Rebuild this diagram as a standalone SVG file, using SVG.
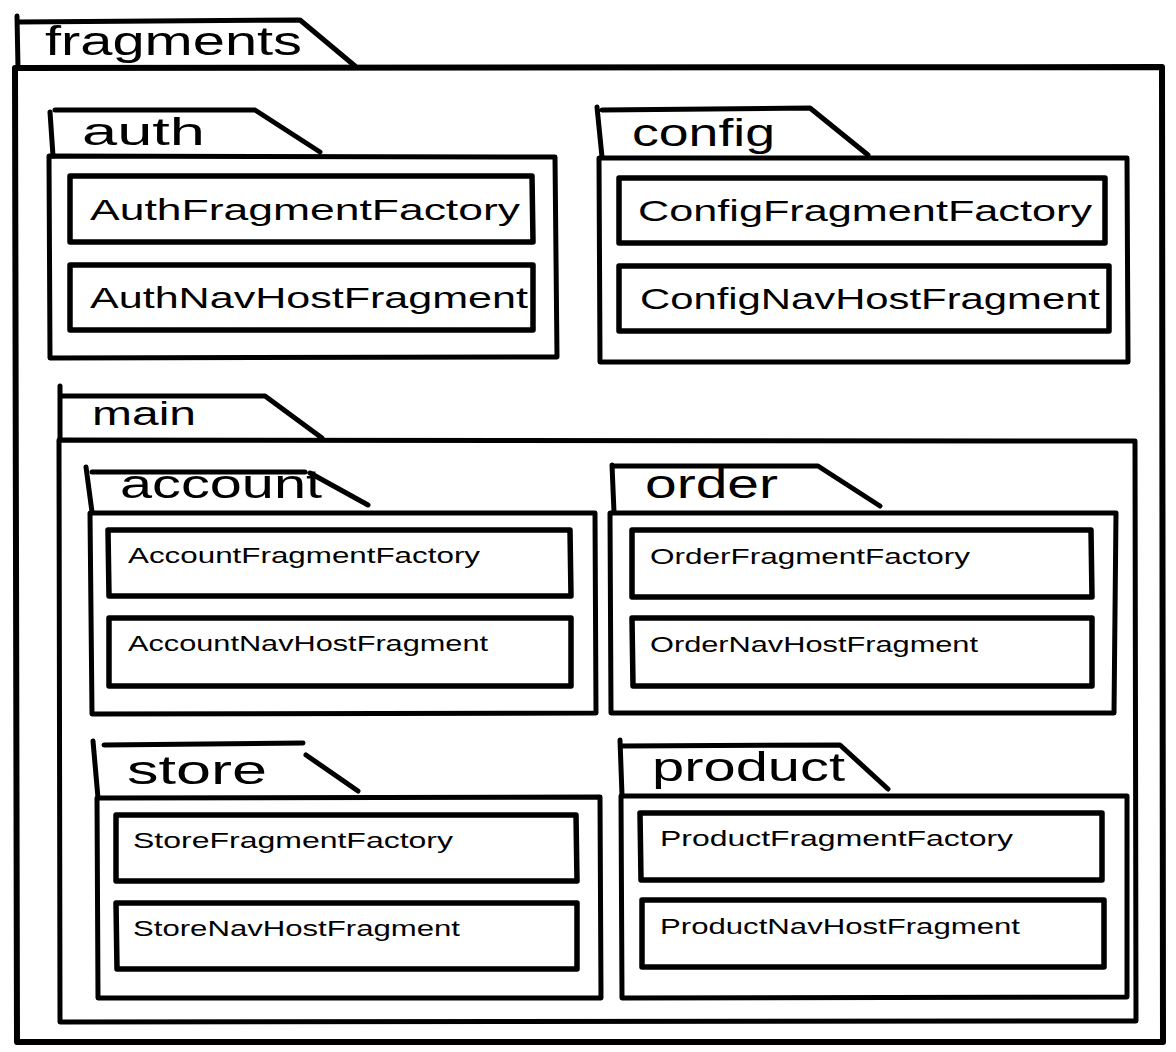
<svg xmlns="http://www.w3.org/2000/svg" width="1176" height="1052" viewBox="0 0 1176 1052">
<style>
.ln{fill:none;stroke:#000;stroke-width:5;stroke-linecap:round;stroke-linejoin:round}
.bx{fill:none;stroke:#000;stroke-width:5.5;stroke-linecap:round;stroke-linejoin:round}
.pk{font-family:"Liberation Sans","DejaVu Sans",sans-serif;fill:#000}
.cl{font-family:"Liberation Sans","DejaVu Sans",sans-serif;fill:#000}
</style>
<rect width="1176" height="1052" fill="#fff"/>
<g id="fragments">
<path class="ln" d="M17,16 L18,68 M18,22 L300,20 L355,66"/>
<path class="ln" d="M15,68 L1162,67 L1163,1042 L17,1042 Z" style="stroke-width:6"/>
<text class="pk" x="45" y="55" font-size="40" textLength="257" lengthAdjust="spacingAndGlyphs">fragments</text>
</g>
<g id="auth">
<path class="ln" d="M50,112 L53,156 M55,110 L255,110 L320,152"/>
<path class="ln" d="M49,156 L555,157 L557,357 L50,358 Z"/>
<text class="pk" x="82" y="145" font-size="38" textLength="123" lengthAdjust="spacingAndGlyphs">auth</text>
</g>
<g id="AuthFragmentFactory">
<path class="bx" d="M70,176 L532,176 L533,242 L70,242 Z"/>
<text class="cl" x="90" y="220" font-size="30" textLength="430" lengthAdjust="spacingAndGlyphs">AuthFragmentFactory</text>
</g>
<g id="AuthNavHostFragment">
<path class="bx" d="M70,265 L533,265 L533,330 L70,330 Z"/>
<text class="cl" x="90" y="308" font-size="30" textLength="438" lengthAdjust="spacingAndGlyphs">AuthNavHostFragment</text>
</g>
<g id="config">
<path class="ln" d="M597,107 L602,157 M602,110 L810,108 L868,155"/>
<path class="ln" d="M599,158 L1127,158 L1128,362 L600,362 Z"/>
<text class="pk" x="632" y="146" font-size="38" textLength="143" lengthAdjust="spacingAndGlyphs">config</text>
</g>
<g id="ConfigFragmentFactory">
<path class="bx" d="M619,178 L1105,178 L1105,243 L619,243 Z"/>
<text class="cl" x="638" y="221" font-size="30" textLength="454" lengthAdjust="spacingAndGlyphs">ConfigFragmentFactory</text>
</g>
<g id="ConfigNavHostFragment">
<path class="bx" d="M619,266 L1109,266 L1109,331 L619,331 Z"/>
<text class="cl" x="640" y="309" font-size="30" textLength="460" lengthAdjust="spacingAndGlyphs">ConfigNavHostFragment</text>
</g>
<g id="main">
<path class="ln" d="M60,386 L60,440 M60,396 L265,396 L322,438"/>
<path class="ln" d="M59,440 L1135,441 L1136,1021 L60,1022 Z"/>
<text class="pk" x="92" y="425" font-size="34" textLength="104" lengthAdjust="spacingAndGlyphs">main</text>
</g>
<g id="account">
<path class="ln" d="M86,467 L92,512 M92,472 L305,472 M310,473 L368,505"/>
<path class="ln" d="M90,513 L595,513 L596,713 L92,714 Z"/>
<text class="pk" x="120" y="498" font-size="40" textLength="202" lengthAdjust="spacingAndGlyphs">account</text>
</g>
<g id="AccountFragmentFactory">
<path class="bx" d="M108,530 L570,530 L571,596 L109,596 Z"/>
<text class="cl" x="128" y="563" font-size="22" textLength="352" lengthAdjust="spacingAndGlyphs">AccountFragmentFactory</text>
</g>
<g id="AccountNavHostFragment">
<path class="bx" d="M109,618 L571,618 L571,686 L109,686 Z"/>
<text class="cl" x="128" y="651" font-size="22" textLength="360" lengthAdjust="spacingAndGlyphs">AccountNavHostFragment</text>
</g>
<g id="order">
<path class="ln" d="M612,465 L614,512 M614,466 L818,466 L880,506"/>
<path class="ln" d="M610,513 L1116,513 L1114,713 L611,713 Z"/>
<text class="pk" x="645" y="498" font-size="40" textLength="133" lengthAdjust="spacingAndGlyphs">order</text>
</g>
<g id="OrderFragmentFactory">
<path class="bx" d="M632,530 L1091,530 L1092,597 L632,597 Z"/>
<text class="cl" x="650" y="564" font-size="22" textLength="320" lengthAdjust="spacingAndGlyphs">OrderFragmentFactory</text>
</g>
<g id="OrderNavHostFragment">
<path class="bx" d="M632,618 L1092,618 L1092,686 L633,686 Z"/>
<text class="cl" x="650" y="652" font-size="22" textLength="328" lengthAdjust="spacingAndGlyphs">OrderNavHostFragment</text>
</g>
<g id="store">
<path class="ln" d="M93,741 L98,798 M104,745 L303,743 M306,755 L358,791"/>
<path class="ln" d="M97,798 L600,797 L601,998 L98,998 Z"/>
<text class="pk" x="127" y="784" font-size="40" textLength="140" lengthAdjust="spacingAndGlyphs">store</text>
</g>
<g id="StoreFragmentFactory">
<path class="bx" d="M116,815 L576,815 L577,881 L116,881 Z"/>
<text class="cl" x="133" y="848" font-size="22" textLength="320" lengthAdjust="spacingAndGlyphs">StoreFragmentFactory</text>
</g>
<g id="StoreNavHostFragment">
<path class="bx" d="M116,903 L577,903 L577,969 L117,969 Z"/>
<text class="cl" x="133" y="936" font-size="22" textLength="327" lengthAdjust="spacingAndGlyphs">StoreNavHostFragment</text>
</g>
<g id="product">
<path class="ln" d="M620,740 L622,795 M623,746 L840,745 L888,789"/>
<path class="ln" d="M621,796 L1127,796 L1127,997 L622,998 Z"/>
<text class="pk" x="652" y="781" font-size="40" textLength="193" lengthAdjust="spacingAndGlyphs">product</text>
</g>
<g id="ProductFragmentFactory">
<path class="bx" d="M640,813 L1102,813 L1102,880 L641,880 Z"/>
<text class="cl" x="660" y="846" font-size="22" textLength="353" lengthAdjust="spacingAndGlyphs">ProductFragmentFactory</text>
</g>
<g id="ProductNavHostFragment">
<path class="bx" d="M642,900 L1104,900 L1104,967 L642,967 Z"/>
<text class="cl" x="660" y="934" font-size="22" textLength="360" lengthAdjust="spacingAndGlyphs">ProductNavHostFragment</text>
</g>
<g id="connectors"></g>
</svg>
